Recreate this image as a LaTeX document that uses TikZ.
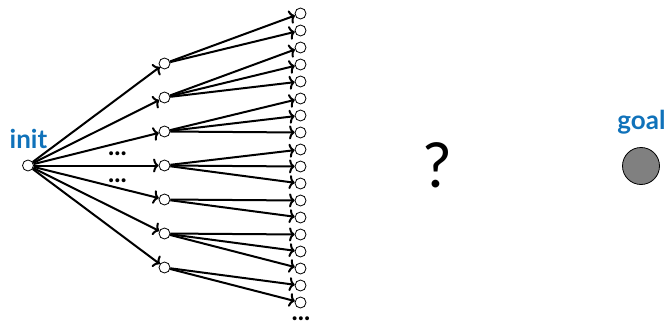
\documentclass[tikz,border=0pt]{standalone}
\usepackage{fontspec}
\setmainfont{Lato}
\usepackage{tikz}
\usetikzlibrary{arrows.meta}
\definecolor{labelblue}{RGB}{16,114,186}
\definecolor{goalgray}{RGB}{128,128,128}

\tikzset{
  state/.style={circle,draw,fill=white,inner sep=0pt,minimum size=11pt,line width=0.8pt},
  edge/.style={line width=2pt,-{To[length=5.5pt,width=14pt]}},
  tag/.style={text=labelblue,font=\bfseries\fontsize{26}{28}\selectfont},
  dots/.style={anchor=base,inner sep=0pt,font=\bfseries\fontsize{26}{28}\selectfont}
}

\begin{document}
\begin{tikzpicture}[x=1pt,y=-1pt]
\useasboundingbox (0,0) rectangle (668,323);
% start state
\node[state] (init) at (28,165.5) {};
\node[tag] (initlabel) at (28.5,139) {init};
% first layer
\foreach \i in {0,...,6}{
\node[state] (m\i) at (164.5,63.5+34*\i) {};
\draw[edge] (init) -- (m\i);
}
% second layer
\foreach \k in {0,...,17}{
\node[state] (l\k) at (300.5,13.5+17*\k) {};
}
\foreach \m/\ls in {0/{0,1},1/{2,3,4},2/{5,6,7},3/{8,9,10},4/{11,12},5/{13,14,15},6/{16,17}}{
\foreach \l in \ls{
\draw[edge] (m\m) -- (l\l);
}
}
\node[dots] (dotsa) at (117.5,156) {...};
\node[dots] (dotsb) at (117.5,182) {...};
\node[dots] (dotsc) at (301,320.5) {...};
% unknown gap and goal
\node[font=\fontsize{62}{66}\selectfont] (gap) at (437,165) {?};
\node[circle,draw,fill=goalgray,line width=0.8pt,minimum size=37pt,inner sep=0pt] (goal) at (641,166) {};
\node[tag] (goallabel) at (641.5,122) {goal};
\end{tikzpicture}
\end{document}
